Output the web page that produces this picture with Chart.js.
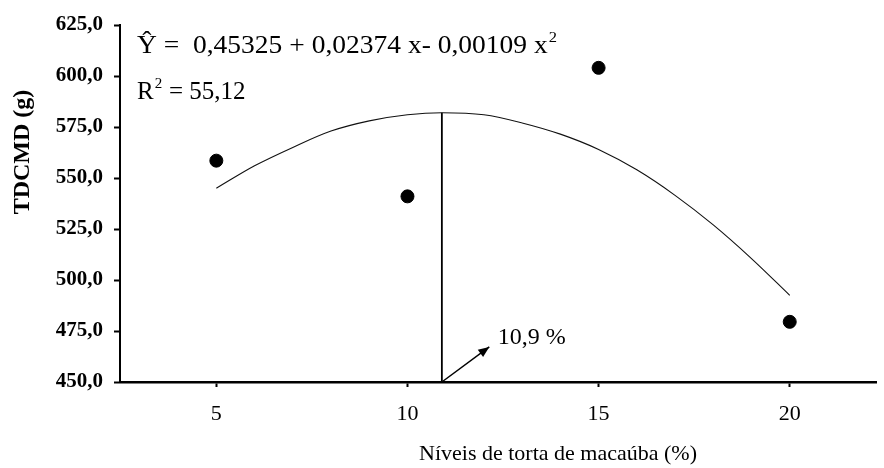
<!DOCTYPE html>
<html>
<head>
<meta charset="utf-8">
<script src="https://cdn.jsdelivr.net/npm/chart.js@4/dist/chart.umd.min.js"></script>
<style>
  html, body { margin: 0; padding: 0; background: #fff; overflow: hidden; }
  #wrap { width: 884px; height: 468px; position: relative; }
</style>
</head>
<body>
<div id="wrap"><canvas id="chart"></canvas></div>
<script>
// tick labels
const xTicks = [5, 10, 15, 20];
const yTicks = [450, 475, 500, 525, 550, 575, 600, 625];

// observed means
const levels = [5, 10, 15, 20];
const observed = [558.5, 541, 604, 479.5];

// fitted curve
const curveX = [5, 6, 7, 8, 9, 10, 10.9, 12, 13, 14, 15, 16, 17, 18, 19, 20];
const curveY = [545, 556, 565, 573, 578, 581, 582, 581, 577, 571.5, 564, 554, 541.5, 527, 510.5, 492.5];

// maximum point
const optimumX = 10.9;
const optimumY = 582;

const eqText = "\u0176 =  0,45325 + 0,02374 x- 0,00109 x";
const r2Text = " = 55,12";
const optimumLabel = "10,9 %";
const xTitle = "N\u00edveis de torta de maca\u00faba (%)";
const yTitle = "TDCMD (g)";

const serif = "'Liberation Serif', 'Times New Roman', serif";

const annotations = {
    id: 'annotations',
    afterDraw(chart) {
        const ctx = chart.ctx;
        const xs = chart.scales.x, ys = chart.scales.y;
        ctx.save();
        ctx.fillStyle = '#000';
        ctx.strokeStyle = '#000';

        // equation (a bit stretched like the original)
        ctx.save();
        ctx.translate(137, 0);
        ctx.scale(1.1, 1);
        ctx.font = "25px " + serif;
        ctx.textBaseline = 'alphabetic';
        ctx.textAlign = 'left';
        ctx.fillText(eqText, 0, 53);
        let w = ctx.measureText(eqText).width;
        ctx.font = "15px " + serif;
        ctx.fillText("2", w + 1, 42);
        ctx.restore();

        // R2
        ctx.textAlign = 'left';
        ctx.textBaseline = 'alphabetic';
        ctx.font = "25px " + serif;
        ctx.fillText("R", 137, 99);
        let rw = ctx.measureText("R").width;
        ctx.font = "15px " + serif;
        ctx.fillText("2", 137 + rw + 1, 88);
        ctx.font = "25px " + serif;
        ctx.fillText(r2Text, 137 + rw + 9, 99);

        // arrow from the optimum
        const ax = xs.getPixelForValue(optimumX), ay = ys.getPixelForValue(450);
        const bx = xs.getPixelForValue(12.14), by = ys.getPixelForValue(467.2);
        ctx.lineWidth = 1.5;
        ctx.beginPath();
        ctx.moveTo(ax, ay);
        ctx.lineTo(bx, by);
        ctx.stroke();
        const ang = Math.atan2(by - ay, bx - ax);
        ctx.beginPath();
        ctx.moveTo(bx, by);
        ctx.lineTo(bx - 11 * Math.cos(ang) + 4.5 * Math.sin(ang), by - 11 * Math.sin(ang) - 4.5 * Math.cos(ang));
        ctx.lineTo(bx - 11 * Math.cos(ang) - 4.5 * Math.sin(ang), by - 11 * Math.sin(ang) + 4.5 * Math.cos(ang));
        ctx.closePath();
        ctx.fill();

        ctx.font = "24px " + serif;
        ctx.textBaseline = 'middle';
        ctx.fillText(optimumLabel, xs.getPixelForValue(12.36), ys.getPixelForValue(471.6));

        // axis titles
        ctx.font = "22px " + serif;
        ctx.textAlign = 'center';
        ctx.fillText(xTitle, 558, 454);

        ctx.font = "bold 24px " + serif;
        ctx.translate(23, 152);
        ctx.rotate(-Math.PI / 2);
        ctx.fillText(yTitle, 0, 0);
        ctx.restore();
    }
};

new Chart(document.getElementById('chart'), {
    type: 'scatter',
    data: {
        datasets: [
            {
                label: 'ajuste',
                type: 'line',
                data: curveX.map((x, i) => ({x: x, y: curveY[i]})),
                borderColor: '#111',
                borderWidth: 1.1,
                pointRadius: 0,
                cubicInterpolationMode: 'monotone',
                fill: false
            },
            {
                label: 'maximo',
                type: 'line',
                data: [{x: optimumX, y: 450}, {x: optimumX, y: optimumY}],
                borderColor: '#000',
                borderWidth: 1.8,
                pointRadius: 0,
                fill: false
            },
            {
                label: 'observado',
                data: levels.map((x, i) => ({x: x, y: observed[i]})),
                backgroundColor: '#000',
                borderColor: '#000',
                pointRadius: 6.5,
                pointHoverRadius: 6.5
            }
        ]
    },
    options: {
        responsive: true,
        maintainAspectRatio: false,
        animation: false,
        events: [],
        layout: {padding: {top: 25, right: -7, left: 0, bottom: 0}},
        plugins: {
            legend: {display: false},
            tooltip: {enabled: false}
        },
        scales: {
            x: {
                type: 'linear',
                min: 2.48,
                max: 22.27,
                afterBuildTicks: s => { s.ticks = xTicks.map(v => ({value: v})); },
                afterFit: s => { s.height = 86; s.paddingLeft = 0; s.paddingRight = 0; },
                border: {display: true, color: '#000', width: 2.5},
                grid: {display: true, drawOnChartArea: false, drawTicks: true, tickLength: 5, tickColor: '#000', tickWidth: 2},
                ticks: {
                    color: '#000',
                    padding: 14,
                    font: {family: serif, size: 22},
                    callback: v => String(v)
                }
            },
            y: {
                min: 450,
                max: 625,
                afterBuildTicks: s => { s.ticks = yTicks.map(v => ({value: v})); },
                afterFit: s => { s.width = 120; },
                border: {display: true, color: '#000', width: 2},
                grid: {display: true, drawOnChartArea: false, drawTicks: true, tickLength: 6, tickColor: '#000', tickWidth: 2},
                ticks: {
                    color: '#000',
                    padding: 11,
                    font: {family: serif, size: 21, weight: 'bold'},
                    callback: v => v.toFixed(1).replace('.', ',')
                }
            }
        }
    },
    plugins: [annotations]
});
</script>
</body>
</html>
